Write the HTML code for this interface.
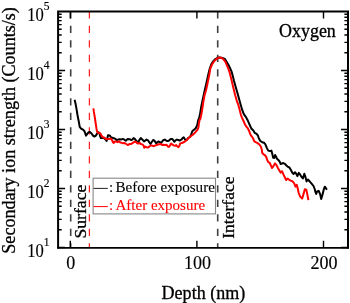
<!DOCTYPE html>
<html><head><meta charset="utf-8"><style>
html,body{margin:0;padding:0;background:#fff;}
svg{display:block;font-family:"Liberation Serif",serif;will-change:transform;}
</style></head><body>
<svg width="350" height="303" viewBox="0 0 350 303">
<rect width="350" height="303" fill="#fff"/>
<g stroke="#404040" stroke-width="1.6" stroke-dasharray="7.4,7.1" stroke-dashoffset="-0.3" fill="none">
<path d="M70.7,10.9 V247.7"/>
<path d="M217.7,10.9 V247.7"/>
</g>
<path d="M89.4,10.9 V247.7" stroke="#f22" stroke-width="1.25" stroke-dasharray="7.4,7.1" stroke-dashoffset="-0.3" fill="none"/>
<rect x="93.1" y="178.2" width="122.4" height="35.7" fill="#fff" stroke="#888" stroke-width="1.1"/>
<path d="M93.5,188.4 H107.8" stroke="#222" stroke-width="1"/>
<path d="M93.5,206.6 H107.8" stroke="#f00" stroke-width="1"/>
<text transform="translate(109.00,192.00)" font-size="15" stroke="#000" stroke-width="0.1">:</text>
<text transform="translate(115.50,192.00) scale(1.0080,1.0000)" font-size="15" stroke="#000" stroke-width="0.1">Before exposure</text>
<text transform="translate(109.00,210.30)" font-size="15" fill="#f00" stroke="#f00" stroke-width="0.1">:</text>
<text transform="translate(115.50,210.30)" font-size="15" fill="#f00" stroke="#f00" stroke-width="0.1">After exposure</text>

<path d="M74.6,99.7 L75.5,103.4 L76.5,108.9 L77.4,114.5 L78.3,119.1 L79.0,122.6 L79.7,126.8 L81.1,128.6 L82.9,129.6 L84.3,130.9 L85.2,133.2 L86.0,135.6 L87.1,134.2 L88.5,132.3 L89.9,131.9 L91.2,133.2 L92.0,134.1 L93.2,135.9 L94.4,136.5 L95.6,135.9 L96.8,134.1 L97.7,132.9 L98.5,132.3 L99.4,132.9 L100.0,135.9 L100.9,138.0 L102.1,138.0 L103.6,138.0 L104.8,138.6 L106.0,140.1 L106.6,141.0 L107.2,138.9 L108.0,135.3 L109.8,135.6 L110.9,137.1 L112.4,137.8 L113.8,138.2 L115.3,138.9 L116.7,140.0 L118.2,139.6 L119.6,139.3 L121.1,139.6 L122.9,138.9 L124.3,139.6 L125.8,140.7 L126.9,139.6 L128.0,138.9 L128.8,139.2 L129.6,139.2 L131.2,140.0 L132.4,139.6 L133.6,138.0 L134.8,138.8 L136.0,140.4 L137.2,141.6 L138.4,142.0 L139.6,139.6 L140.8,138.0 L142.0,139.2 L143.2,140.4 L144.0,141.4 L145.1,140.7 L146.5,139.6 L148.0,140.3 L149.4,142.5 L150.5,144.0 L151.6,142.2 L153.1,140.0 L154.5,140.7 L155.6,142.5 L156.3,143.3 L157.4,142.2 L158.5,141.4 L160.0,142.2 L161.4,142.9 L162.2,141.4 L163.5,140.0 L164.9,139.6 L166.4,140.7 L167.8,141.1 L169.3,140.3 L170.7,138.9 L172.2,138.9 L173.3,140.3 L174.3,141.8 L175.4,140.3 L176.9,139.6 L178.3,140.0 L179.8,140.7 L180.2,140.2 L181.4,139.7 L182.8,137.9 L183.7,137.4 L184.6,138.8 L185.5,140.2 L186.9,139.7 L188.3,137.9 L189.7,137.0 L191.1,135.1 L192.0,131.9 L192.9,130.5 L194.3,129.6 L195.7,128.2 L197.1,125.4 L197.7,122.6 L198.3,119.8 L199.0,118.6 L200.2,113.1 L201.1,107.5 L202.3,101.5 L203.6,95.5 L204.9,89.5 L206.2,84.0 L207.3,79.0 L208.4,74.0 L209.7,68.8 L211.4,64.0 L213.3,61.1 L215.4,59.0 L217.5,57.8 L219.6,57.4 L222.5,58.0 L224.8,58.9 L226.6,61.7 L228.5,64.9 L230.3,68.6 L231.7,71.9 L232.6,75.3 L233.9,80.5 L235.7,87.0 L237.6,93.5 L239.5,100.5 L240.9,105.5 L242.3,110.2 L243.7,113.9 L245.6,116.6 L247.4,119.7 L248.8,122.8 L250.2,126.0 L251.5,128.8 L253.4,130.6 L254.8,132.9 L256.6,133.9 L258.0,135.7 L258.9,138.5 L260.3,141.0 L262.2,142.2 L264.0,142.7 L265.4,144.3 L266.8,147.9 L268.2,150.6 L270.0,151.1 L271.4,150.6 L272.3,154.0 L273.2,157.8 L274.2,158.0 L275.1,155.0 L276.0,156.5 L277.0,158.8 L278.3,160.0 L279.7,161.6 L280.6,164.0 L282.0,163.5 L283.4,163.0 L284.8,163.8 L286.2,165.2 L287.6,166.6 L289.4,167.5 L290.8,169.8 L292.2,172.5 L293.6,174.0 L295.0,172.2 L296.5,174.2 L297.4,176.1 L298.8,172.9 L300.2,174.7 L301.6,177.0 L302.9,178.4 L304.3,173.8 L305.2,176.1 L306.6,181.4 L307.9,179.5 L309.6,181.3 L311.6,183.6 L313.5,186.0 L314.7,189.0 L315.4,192.0 L316.2,194.0 L317.1,191.5 L318.7,190.8 L320.2,194.4 L321.2,199.0 L322.3,195.4 L323.8,189.3 L324.8,186.7 L325.9,188.2 L326.9,189.8" stroke="#000" stroke-width="2" fill="none" stroke-linejoin="round"/>
<path d="M93.4,108.4 L93.9,111.9 L94.7,116.7 L95.4,121.5 L96.0,125.3 L96.5,128.7 L97.1,131.6 L98.0,132.8 L99.1,132.9 L100.3,133.5 L100.9,134.4 L101.5,135.6 L102.4,136.8 L103.6,137.4 L104.8,138.0 L106.0,138.9 L107.2,138.9 L108.0,139.0 L109.5,138.9 L110.9,138.5 L112.0,140.0 L113.1,142.5 L113.8,142.9 L114.9,141.4 L116.0,141.4 L117.4,142.2 L118.9,141.4 L120.3,142.5 L121.8,142.9 L123.2,143.3 L124.7,143.0 L126.2,144.0 L128.0,145.1 L128.8,144.4 L129.6,144.0 L131.2,144.0 L132.4,143.2 L133.6,142.4 L134.8,141.6 L136.0,142.0 L137.2,143.2 L138.4,143.6 L139.6,142.8 L140.8,144.0 L142.4,144.4 L143.6,145.6 L144.2,147.8 L145.1,146.6 L146.5,147.2 L148.0,147.6 L149.4,146.5 L150.9,145.4 L152.4,145.8 L153.8,146.2 L155.3,145.4 L156.7,145.1 L158.2,144.3 L159.6,144.3 L161.1,144.0 L162.2,145.1 L163.5,144.7 L164.9,145.1 L166.4,144.7 L167.8,146.5 L168.9,146.9 L170.0,145.4 L171.1,143.6 L172.2,144.3 L173.6,145.4 L175.1,145.8 L176.2,145.1 L177.3,146.5 L178.3,147.2 L179.4,145.8 L180.2,143.4 L181.8,143.0 L184.2,142.0 L186.5,140.2 L188.8,137.9 L191.1,136.0 L193.4,134.2 L195.7,131.9 L197.6,129.6 L198.5,127.2 L198.9,123.5 L199.6,119.8 L200.5,118.6 L201.6,113.1 L202.5,107.5 L203.4,101.5 L204.5,95.5 L206.2,89.5 L207.4,84.0 L208.4,79.0 L209.4,74.2 L210.3,68.6 L212.2,64.2 L214.0,61.4 L215.9,59.5 L217.7,58.1 L219.6,57.5 L221.4,57.8 L222.9,58.9 L224.3,60.3 L225.7,62.6 L227.1,65.9 L228.5,69.1 L229.9,73.5 L231.3,79.0 L233.4,87.9 L235.2,95.3 L236.8,100.8 L238.2,104.6 L239.5,109.2 L240.9,114.8 L242.3,118.5 L243.7,121.3 L245.0,124.5 L246.4,126.6 L247.6,128.0 L248.8,130.2 L250.2,133.9 L251.5,136.2 L252.9,138.0 L254.3,141.3 L255.7,142.2 L257.6,143.1 L259.4,144.5 L260.8,146.5 L261.7,149.2 L262.2,152.9 L263.5,154.3 L264.9,155.2 L266.3,157.1 L267.2,159.9 L268.2,162.2 L269.6,162.6 L270.9,165.5 L271.9,168.0 L273.2,166.5 L275.0,163.4 L276.5,165.2 L277.9,167.9 L279.2,170.2 L280.6,172.6 L282.0,171.2 L283.4,174.4 L284.8,177.2 L286.2,180.0 L287.6,178.6 L288.9,179.5 L290.5,180.6 L292.0,181.0 L293.2,182.0 L294.4,183.8 L295.5,186.6 L296.7,184.8 L297.7,188.2 L298.7,193.0 L300.1,196.5 L302.2,198.5 L303.7,193.4 L304.8,189.3 L306.3,189.8 L307.3,194.4 L308.4,200.1" stroke="#f00" stroke-width="2" fill="none" stroke-linejoin="round"/>
<path d="M58.1,247.50 h7 M348.0,247.50 h-7 M58.1,229.74 h3.6 M348.0,229.74 h-3.6 M58.1,219.35 h3.6 M348.0,219.35 h-3.6 M58.1,211.98 h3.6 M348.0,211.98 h-3.6 M58.1,206.26 h3.6 M348.0,206.26 h-3.6 M58.1,201.59 h3.6 M348.0,201.59 h-3.6 M58.1,197.64 h3.6 M348.0,197.64 h-3.6 M58.1,194.22 h3.6 M348.0,194.22 h-3.6 M58.1,191.20 h3.6 M348.0,191.20 h-3.6 M58.1,188.50 h7 M348.0,188.50 h-7 M58.1,170.74 h3.6 M348.0,170.74 h-3.6 M58.1,160.35 h3.6 M348.0,160.35 h-3.6 M58.1,152.98 h3.6 M348.0,152.98 h-3.6 M58.1,147.26 h3.6 M348.0,147.26 h-3.6 M58.1,142.59 h3.6 M348.0,142.59 h-3.6 M58.1,138.64 h3.6 M348.0,138.64 h-3.6 M58.1,135.22 h3.6 M348.0,135.22 h-3.6 M58.1,132.20 h3.6 M348.0,132.20 h-3.6 M58.1,129.50 h7 M348.0,129.50 h-7 M58.1,111.74 h3.6 M348.0,111.74 h-3.6 M58.1,101.35 h3.6 M348.0,101.35 h-3.6 M58.1,93.98 h3.6 M348.0,93.98 h-3.6 M58.1,88.26 h3.6 M348.0,88.26 h-3.6 M58.1,83.59 h3.6 M348.0,83.59 h-3.6 M58.1,79.64 h3.6 M348.0,79.64 h-3.6 M58.1,76.22 h3.6 M348.0,76.22 h-3.6 M58.1,73.20 h3.6 M348.0,73.20 h-3.6 M58.1,70.50 h7 M348.0,70.50 h-7 M58.1,52.74 h3.6 M348.0,52.74 h-3.6 M58.1,42.35 h3.6 M348.0,42.35 h-3.6 M58.1,34.98 h3.6 M348.0,34.98 h-3.6 M58.1,29.26 h3.6 M348.0,29.26 h-3.6 M58.1,24.59 h3.6 M348.0,24.59 h-3.6 M58.1,20.64 h3.6 M348.0,20.64 h-3.6 M58.1,17.22 h3.6 M348.0,17.22 h-3.6 M58.1,14.20 h3.6 M348.0,14.20 h-3.6 M70.30,247.7 v-7 M70.30,11.6 v7 M196.90,247.7 v-7 M196.90,11.6 v7 M323.50,247.7 v-7 M323.50,11.6 v7" stroke="#000" stroke-width="1.4" fill="none"/>
<path d="M58.1,248.5 V11.6 H348.0 V248.5" fill="none" stroke="#000" stroke-width="2"/>
<path d="M57.1,247.89999999999998 H349.0" fill="none" stroke="#000" stroke-width="1.6"/>
<text transform="translate(27.20,21.30) scale(0.9200,1.0000)" font-size="18" stroke="#000" stroke-width="0.15">10</text>
<text transform="translate(43.80,9.90)" font-size="11.5" stroke="#000" stroke-width="0.15">5</text>
<text transform="translate(27.20,80.30) scale(0.9200,1.0000)" font-size="18" stroke="#000" stroke-width="0.15">10</text>
<text transform="translate(43.80,68.90)" font-size="11.5" stroke="#000" stroke-width="0.15">4</text>
<text transform="translate(27.20,139.30) scale(0.9200,1.0000)" font-size="18" stroke="#000" stroke-width="0.15">10</text>
<text transform="translate(43.80,127.90)" font-size="11.5" stroke="#000" stroke-width="0.15">3</text>
<text transform="translate(27.20,198.30) scale(0.9200,1.0000)" font-size="18" stroke="#000" stroke-width="0.15">10</text>
<text transform="translate(43.80,186.90)" font-size="11.5" stroke="#000" stroke-width="0.15">2</text>
<text transform="translate(27.20,257.30) scale(0.9200,1.0000)" font-size="18" stroke="#000" stroke-width="0.15">10</text>
<text transform="translate(43.80,245.90)" font-size="11.5" stroke="#000" stroke-width="0.15">1</text>
<text transform="translate(70.80,269.00)" font-size="18" stroke="#000" stroke-width="0.15" text-anchor="middle">0</text>
<text transform="translate(197.40,269.00)" font-size="18" stroke="#000" stroke-width="0.15" text-anchor="middle">100</text>
<text transform="translate(324.00,269.00)" font-size="18" stroke="#000" stroke-width="0.15" text-anchor="middle">200</text>
<text transform="translate(279.00,37.30) scale(1.0090,1.0000)" font-size="17.8" stroke="#000" stroke-width="0.3">Oxygen</text>
<text transform="translate(161.60,298.60) scale(1.0190,1.0800)" font-size="17.7" stroke="#000" stroke-width="0.3">Depth (nm)</text>
<text transform="translate(85.80,238.60) rotate(-90) scale(1.0400,1.0000)" font-size="17" stroke="#000" stroke-width="0.3">Surface</text>
<text transform="translate(234.30,238.80) rotate(-90) scale(1.0200,1.0000)" font-size="17.2" stroke="#000" stroke-width="0.3">Interface</text>
<text transform="translate(15.10,253.70) rotate(-90) scale(0.9830,1.0000)" font-size="18.4" stroke="#000" stroke-width="0.3">Secondary ion strength (Counts/s)</text>

</svg>
</body></html>
